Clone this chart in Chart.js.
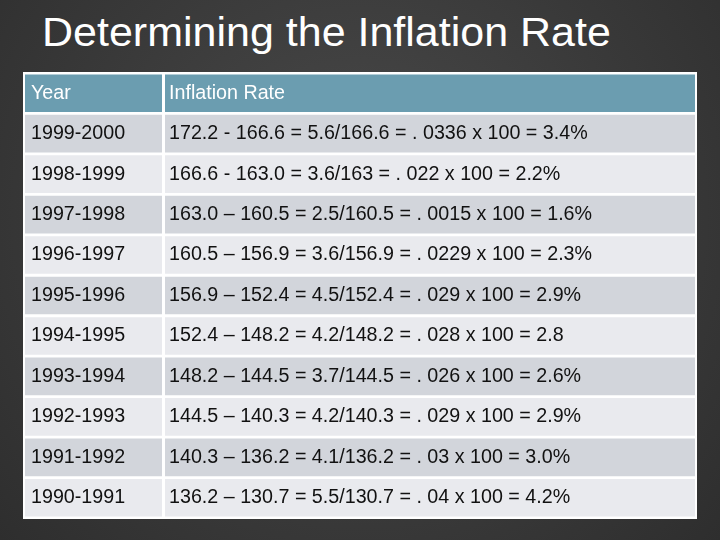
<!DOCTYPE html>
<html>
<head>
<meta charset="utf-8">
<script src="https://cdn.jsdelivr.net/npm/chart.js@4"></script>
<style>
  body { margin: 0; width: 720px; height: 540px; overflow: hidden;
         background: radial-gradient(circle at 50% 40%, #4a4a4a, #2e2e2e); position: relative; }
  #title { position: absolute; left: 42px; top: 10px; color: #fff;
           font: 43px "Liberation Sans", Arial, sans-serif; transform: scaleY(0.93); transform-origin: left top; }
  #wrap { position: absolute; left: 23px; top: 72px; width: 674px; height: 447px; background: #fff; }
</style>
</head>
<body>
<div id="title">Determining the Inflation Rate</div>
<div id="wrap"><canvas id="tableChart"></canvas></div>
<script>
// Données du tableau
const headers = ['Year', 'Inflation Rate'];
const years = ['1999-2000', '1998-1999', '1997-1998', '1996-1997', '1995-1996',
  '1994-1995', '1993-1994', '1992-1993', '1991-1992', '1990-1991'];
const rates = [
  '172.2 - 166.6 = 5.6/166.6 = . 0336 x 100 = 3.4%',
  '166.6 - 163.0 = 3.6/163 = . 022 x 100 = 2.2%',
  '163.0 – 160.5 = 2.5/160.5 = . 0015 x 100 = 1.6%',
  '160.5 – 156.9 = 3.6/156.9 = . 0229 x 100 = 2.3%',
  '156.9 – 152.4 = 4.5/152.4 = . 029 x 100 = 2.9%',
  '152.4 – 148.2 = 4.2/148.2 = . 028 x 100 = 2.8',
  '148.2 – 144.5 = 3.7/144.5 = . 026 x 100 = 2.6%',
  '144.5 – 140.3 = 4.2/140.3 = . 029 x 100 = 2.9%',
  '140.3 – 136.2 = 4.1/136.2 = . 03 x 100 = 3.0%',
  '136.2 – 130.7 = 5.5/130.7 = . 04 x 100 = 4.2%'
];

document.addEventListener('DOMContentLoaded', function () {
  const rows = ['h'].concat(years);
  const col1 = [headers[0]].concat(years);
  const col2 = [headers[1]].concat(rates);
  const colors = rows.map((r, i) => i === 0 ? '#6b9db0' : (i % 2 ? '#d2d5db' : '#e9eaee'));

  // Écrire le texte dans chaque cellule
  const cellText = {
    id: 'cellText',
    afterDatasetsDraw(chart) {
      const ctx = chart.ctx;
      ctx.save();
      ctx.font = '19.7px "Liberation Sans", Arial, sans-serif';
      ctx.textBaseline = 'middle';
      [col1, col2].forEach((texts, d) => {
        chart.getDatasetMeta(d).data.forEach((el, i) => {
          ctx.fillStyle = i === 0 ? '#fff' : '#111';
          ctx.fillText(texts[i], Math.min(el.base, el.x) + (d ? 4 : 6), el.y);
        });
      });
      ctx.restore();
    }
  };

  new Chart(document.getElementById('tableChart'), {
    type: 'bar',
    data: {
      labels: rows,
      datasets: [
        { data: rows.map(() => [0, 137]), backgroundColor: colors },
        { data: rows.map(() => [140, 670]), backgroundColor: colors }
      ]
    },
    options: {
      indexAxis: 'y',
      responsive: true,
      maintainAspectRatio: false,
      animation: false,
      layout: { padding: { left: 2, right: 2, top: 1, bottom: 1 } },
      plugins: { legend: { display: false }, tooltip: { enabled: false } },
      scales: {
        x: { display: false, min: 0, max: 670 },
        y: { display: false, stacked: true }
      },
      datasets: { bar: { categoryPercentage: 0.93, barPercentage: 1, grouped: false } }
    },
    plugins: [cellText]
  });
});
</script>
</body>
</html>
